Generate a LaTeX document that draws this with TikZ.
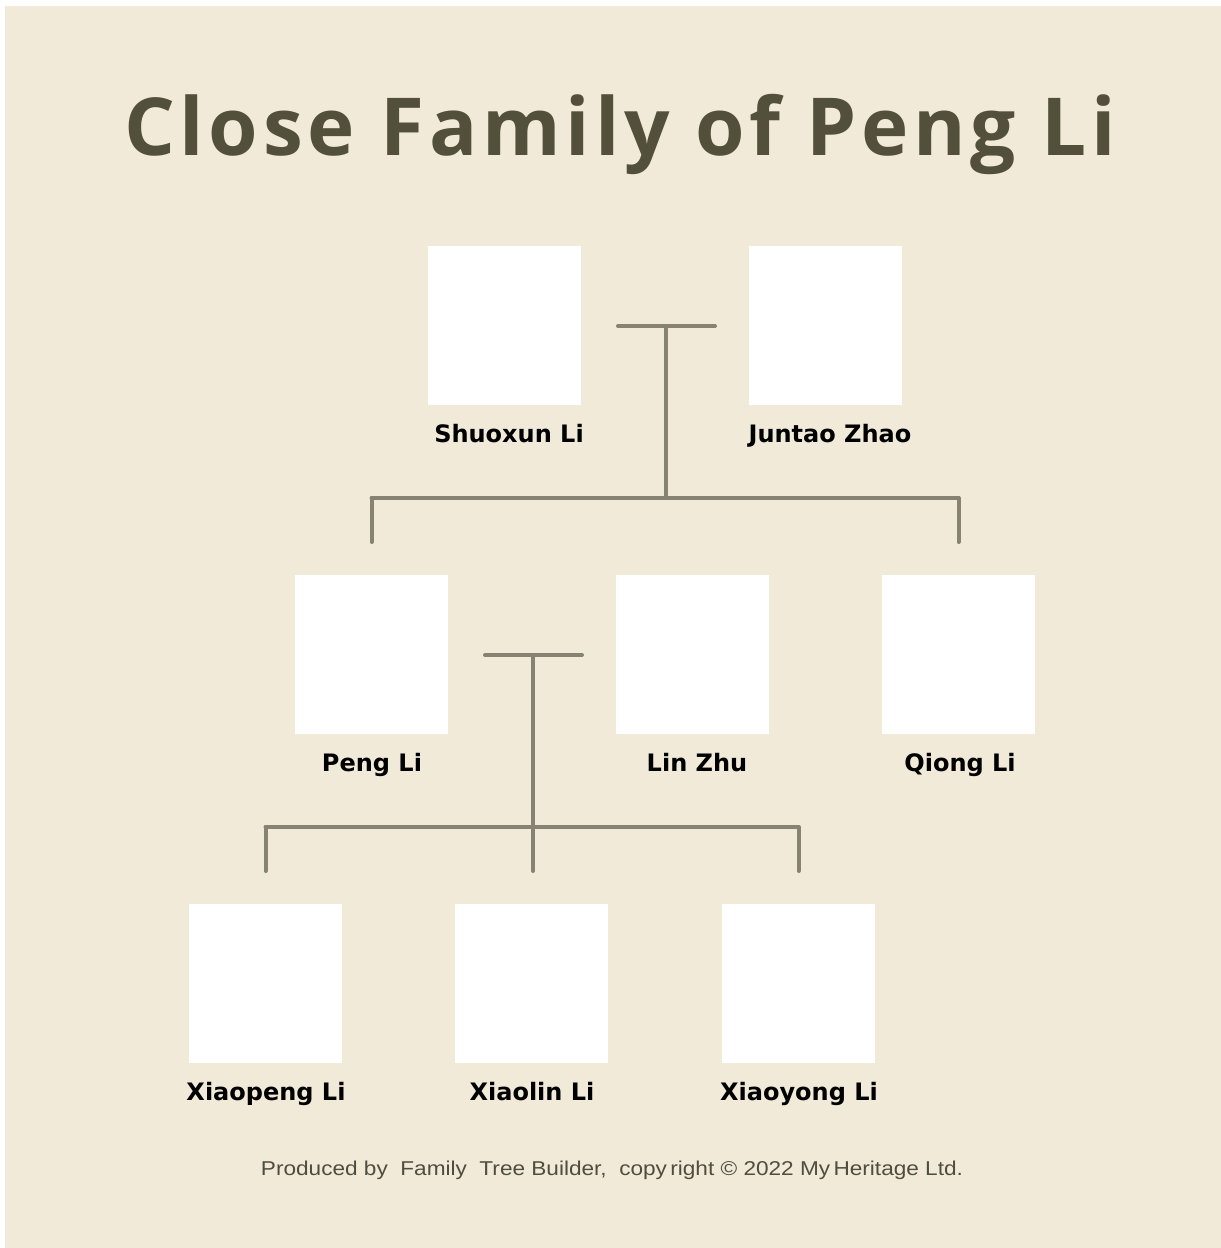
\documentclass[tikz,border=0pt]{standalone}
\usepackage{fontspec}
\setmainfont{DejaVu Sans}
\newfontfamily\titlefont[LetterSpace=6]{Open Sans}
\newfontfamily\footfont[FakeStretch=1.13]{Liberation Sans}

\definecolor{pagebg}{RGB}{241,234,216}
\definecolor{titlecol}{RGB}{82,79,58}
\definecolor{linecol}{RGB}{135,131,115}
\definecolor{footcol}{RGB}{78,77,62}

\tikzset{every picture/.style={line width=4pt}}
\tikzset{
  photobox/.style={fill=white,draw=none,minimum width=153pt,minimum height=159pt,inner sep=0pt},
  namelabel/.style={inner sep=0pt,anchor=base,font=\fontsize{24}{28}\selectfont\bfseries,text=black},
  famline/.style={draw=linecol,line width=4pt,line cap=round}
}

\begin{document}
\begin{tikzpicture}[x=1pt,y=1pt,yscale=-1,xscale=1]
%set diagram left start at 0, and has size of 1221 x 1248
\useasboundingbox (0,0) rectangle (1221,1248);

%Shape: Background
\fill [pagebg] (5,6) rectangle (1221,1248);

% Text Node
\node (title) [inner sep=0pt,anchor=base,text=titlecol,font=\titlefont\fontsize{80}{90}\selectfont\bfseries] at (620,155) {Close Family of Peng Li};

%Shape: Photo boxes
\node (shuoxun) [photobox] at (504.5,325.5) {};
\node (juntao) [photobox] at (825.5,325.5) {};
\node (peng) [photobox] at (371.5,654.5) {};
\node (lin) [photobox] at (692.5,654.5) {};
\node (qiong) [photobox] at (958.5,654.5) {};
\node (xiaopeng) [photobox] at (265.5,983.5) {};
\node (xiaolin) [photobox] at (531.5,983.5) {};
\node (xiaoyong) [photobox] at (798.5,983.5) {};

% Text Node
\node (shuoxunname) [namelabel] at (509,442) {Shuoxun Li};
\node (juntaoname) [namelabel] at (830,442) {Juntao Zhao};
\node (pengname) [namelabel] at (372,771) {Peng Li};
\node (linname) [namelabel] at (697,771) {Lin Zhu};
\node (qiongname) [namelabel] at (960,771) {Qiong Li};
\node (xiaopengname) [namelabel] at (266,1100) {Xiaopeng Li};
\node (xiaolinname) [namelabel] at (532,1100) {Xiaolin Li};
\node (xiaoyongname) [namelabel] at (799,1100) {Xiaoyong Li};

%Straight Lines: first couple
\coordinate (union1) at (666,326);
\coordinate (kids1) at (666,498);
\draw [famline] ([xshift=-48pt]union1) -- ([xshift=49pt]union1);
\draw [famline] (union1) -- (kids1);
\draw [famline] (peng.north |- kids1) -- (qiong.north |- kids1);
\draw [famline] (peng.north |- kids1) -- ([yshift=-31pt]peng.north);
\draw [famline] (qiong.north |- kids1) -- ([yshift=-31pt]qiong.north);

%Straight Lines: second couple
\coordinate (union2) at (533,655);
\coordinate (kids2) at (533,827);
\draw [famline] ([xshift=-48pt]union2) -- ([xshift=49pt]union2);
\draw [famline] (union2) -- (kids2);
\draw [famline] (xiaopeng.north |- kids2) -- (xiaoyong.north |- kids2);
\draw [famline] (xiaopeng.north |- kids2) -- ([yshift=-31pt]xiaopeng.north);
\draw [famline] (kids2) -- ([yshift=-31pt]xiaolin.north -| kids2);
\draw [famline] (xiaoyong.north |- kids2) -- ([yshift=-31pt]xiaoyong.north);

% Text Node
\node (footer) [inner sep=0pt,anchor=base,text=footcol,font=\footfont\fontsize{20}{24}\selectfont] at (612,1175) {Produced by~ Family~ Tree Builder,~ copy\,right \copyright{} 2022 My\,Heritage Ltd.};
\end{tikzpicture}
\end{document}
